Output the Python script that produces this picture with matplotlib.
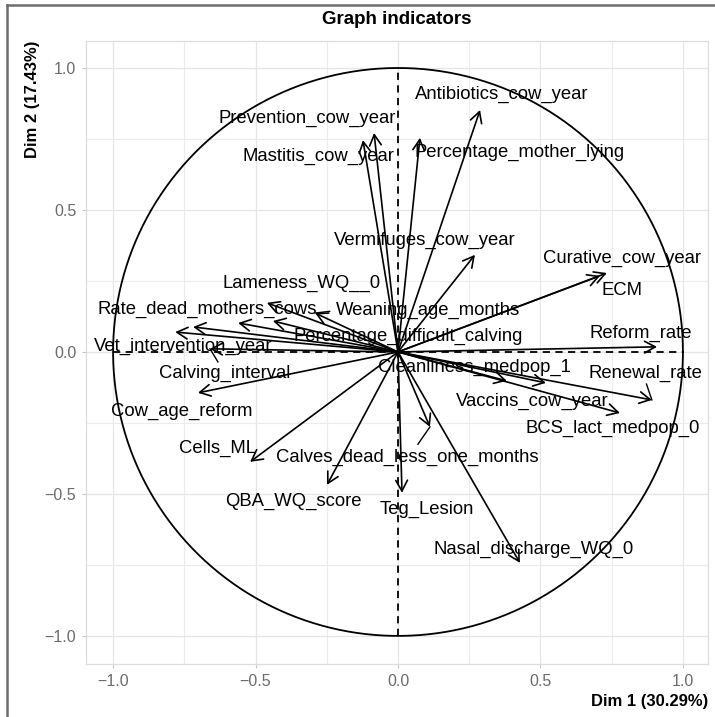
"""Correlation circle of the PCA variables (Dim 1 vs Dim 2)."""

import numpy as np
import matplotlib
matplotlib.use("Agg")
import matplotlib.pyplot as plt
from matplotlib.lines import Line2D

plt.rcParams["font.family"] = ["Liberation Sans", "DejaVu Sans"]

# variable coordinates on the first two dimensions
variables = [
    "Prevention_cow_year", "Mastitis_cow_year", "Antibiotics_cow_year",
    "Percentage_mother_lying", "Vermifuges_cow_year", "Curative_cow_year",
    "ECM", "Reform_rate", "Lameness_WQ__0", "Rate_dead_mothers_cows",
    "Vet_intervention_year", "", "Percentage_difficult_calving",
    "Weaning_age_months", "Calving_interval", "Cow_age_reform", "Cells_ML",
    "QBA_WQ_score", "Calves_dead_less_one_months", "Teg_Lesion",
    "Nasal_discharge_WQ_0", "Cleanliness_medpop_1", "Vaccins_cow_year",
    "Renewal_rate", "BCS_lact_medpop_0",
]
dim1 = [-0.084, -0.123, 0.288, 0.077, 0.270, 0.733, 0.709, 0.909, -0.460,
        -0.719, -0.782, -0.561, -0.439, -0.291, -0.660, -0.702, -0.519,
        -0.249, 0.112, 0.014, 0.428, 0.382, 0.519, 0.891, 0.779]
dim2 = [0.771, 0.746, 0.852, 0.754, 0.342, 0.278, 0.268, 0.018, 0.173,
        0.088, 0.070, 0.102, 0.109, 0.137, 0.011, -0.144, -0.387, -0.468,
        -0.264, -0.496, -0.743, -0.102, -0.109, -0.169, -0.215]

# repelled label positions
label_x = [-0.319, -0.281, 0.365, 0.428, 0.095, 0.786, 0.786, 0.853, -0.337,
           -0.670, -0.754, 0.0, 0.035, 0.105, -0.607, -0.758, -0.635, -0.368,
           0.032, 0.102, 0.477, 0.267, 0.470, 0.867, 0.754]
label_y = [0.824, 0.687, 0.908, 0.701, 0.394, 0.331, 0.218, 0.067, 0.243,
           0.151, 0.018, 0.0, 0.053, 0.148, -0.074, -0.208, -0.338, -0.528,
           -0.370, -0.556, -0.697, -0.056, -0.173, -0.074, -0.271]

# leader segments from a point to its displaced label
seg_var = ["Calving_interval", "Calves_dead_less_one_months", "Renewal_rate",
           "Weaning_age_months"]
seg_x = [-0.632, 0.070, 0.872, -0.240]
seg_y = [-0.035, -0.325, -0.113, 0.143]

fig = plt.figure(figsize=(7.15, 7.17), dpi=100)
ax = fig.add_axes([0.1203, 0.0739, 0.8699, 0.8689])

ax.set_xlim(-1.095, 1.088)
ax.set_ylim(-1.099, 1.095)
ax.set_xticks([-1.0, -0.5, 0.0, 0.5, 1.0])
ax.set_yticks([-1.0, -0.5, 0.0, 0.5, 1.0])
ax.set_xticks([-0.75, -0.25, 0.25, 0.75], minor=True)
ax.set_yticks([-0.75, -0.25, 0.25, 0.75], minor=True)
ax.set_xticklabels(["\u22121.0", "\u22120.5", "0.0", "0.5", "1.0"])
ax.set_yticklabels(["\u22121.0", "\u22120.5", "0.0", "0.5", "1.0"])
ax.tick_params(which="major", length=3, width=0.8, color="#c8c8c8",
               labelcolor="#6b6b6b", labelsize=11.5, pad=4)
ax.tick_params(which="minor", length=0)
ax.grid(which="major", color="#e6e6e6", lw=0.9)
ax.grid(which="minor", color="#ececec", lw=0.8)
ax.set_axisbelow(True)
for sp in ax.spines.values():
    sp.set_color("#dcdcdc")
    sp.set_linewidth(0.9)

# unit circle and reference axes
theta = np.linspace(0, 2 * np.pi, 400)
ax.plot(np.cos(theta), np.sin(theta), color="black", lw=1.3)
ax.plot([-1, 1], [0, 0], color="black", lw=1.3, ls=(0, (4, 3)))
ax.plot([0, 0], [-1, 1], color="black", lw=1.3, ls=(0, (4, 3)))

for x, y in zip(dim1, dim2):
    ax.annotate("", xy=(x, y), xytext=(0, 0),
                arrowprops=dict(arrowstyle="->,head_length=0.55,head_width=0.3",
                                color="black", lw=1.2, shrinkA=0, shrinkB=0,
                                mutation_scale=14))

for name, sx, sy in zip(seg_var, seg_x, seg_y):
    i = variables.index(name)
    ax.plot([dim1[i], sx], [dim2[i], sy], color="black", lw=1.0)

for name, lx, ly in zip(variables, label_x, label_y):
    if name:
        ax.text(lx, ly, name, ha="center", va="center", fontsize=13.3,
                color="black")

ax.set_title("Graph indicators", fontsize=13.5, fontweight="bold", pad=12)
fig.text(0.990, 0.021, "Dim 1 (30.29%)", ha="right", va="center",
         fontsize=12, fontweight="bold")
fig.text(0.045, 0.9428, "Dim 2 (17.43%)", ha="center", va="top",
         rotation=90, fontsize=12, fontweight="bold")

# frame edges along the top and left of the image
fig.add_artist(Line2D([0.010, 0.010], [0.0, 0.993], transform=fig.transFigure,
                      color="#6e6e6e", lw=1.8))
fig.add_artist(Line2D([0.010, 1.0], [0.993, 0.993], transform=fig.transFigure,
                      color="#6e6e6e", lw=1.8))

fig.savefig("out.png", dpi=100)
